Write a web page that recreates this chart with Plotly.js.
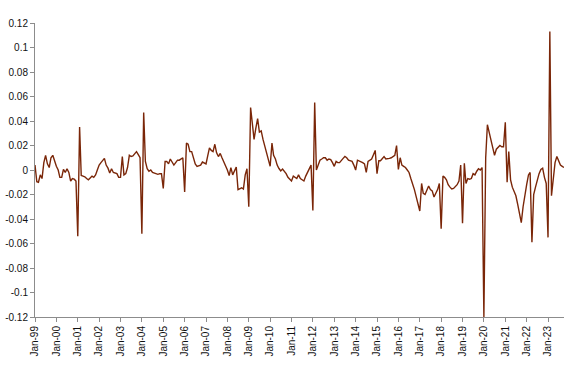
<!DOCTYPE html>
<html>
<head>
<meta charset="utf-8">
<script src="https://cdn.plot.ly/plotly-3.0.1.min.js"></script>
<style>html,body{margin:0;padding:0;background:#fff}#chart{width:570px;height:367px}</style>
</head>
<body>
<div id="chart"></div>
<script>
// Monthly series, Jan-1999 .. Oct-2023
const startYear = 1999;
const v1999 = [0.004, -0.0095, -0.010, -0.004, -0.007, 0.006, 0.012, 0.005, 0.002, 0.010, 0.012, 0.007];
const v2000 = [0.003, 0.000, -0.006, -0.006, 0.0005, -0.002, 0.001, -0.002, -0.009, -0.007, -0.0075, -0.009];
const v2001 = [-0.054, 0.035, -0.0045, -0.005, -0.0055, -0.007, -0.008, -0.0065, -0.005, -0.006, -0.004, 0.000];
const v2002 = [0.004, 0.006, 0.008, 0.0095, 0.004, 0.0015, -0.0025, 0.001, -0.002, -0.0025, -0.003, -0.006];
const v2003 = [-0.006, 0.011, -0.004, -0.003, 0.002, 0.012, 0.011, 0.0115, 0.013, 0.015, 0.0125, 0.010];
const v2004 = [-0.052, 0.047, 0.007, 0.001, -0.001, 0.000, -0.002, -0.0025, -0.003, -0.0035, -0.003, -0.003];
const v2005 = [-0.015, 0.007, 0.007, 0.005, 0.009, 0.006, 0.004, 0.006, 0.008, 0.008, 0.009, 0.010];
const v2006 = [-0.018, 0.022, 0.021, 0.015, 0.015, 0.010, 0.005, 0.003, 0.0035, 0.004, 0.0065, 0.0055];
const v2007 = [0.005, 0.012, 0.018, 0.016, 0.015, 0.021, 0.014, 0.011, 0.0135, 0.010, 0.0068, 0.003];
const v2008 = [0.000, -0.0046, 0.002, -0.004, 0.000, 0.0025, -0.016, -0.015, -0.0145, -0.0155, -0.004, 0.001];
const v2009 = [-0.030, 0.051, 0.037, 0.025, 0.034, 0.042, 0.031, 0.032, 0.025, 0.020, 0.013, 0.008];
const v2010 = [0.003, 0.022, 0.012, 0.009, 0.004, 0.0012, -0.0008, 0.0008, -0.001, -0.003, -0.006, -0.0075];
const v2011 = [-0.009, -0.005, -0.006, -0.007, -0.004, -0.007, -0.008, -0.009, -0.005, -0.002, 0.001, 0.004];
const v2012 = [-0.033, 0.055, 0.000, 0.004, 0.008, 0.009, 0.010, 0.010, 0.008, 0.009, 0.0085, 0.006];
const v2013 = [0.003, 0.007, 0.006, 0.006, 0.008, 0.0095, 0.011, 0.010, 0.008, 0.0075, 0.007, 0.004];
const v2014 = [0.000, 0.008, 0.0075, 0.0065, 0.006, 0.005, -0.002, 0.007, 0.008, 0.009, 0.0125, 0.016];
const v2015 = [-0.003, 0.0075, 0.0075, 0.0095, 0.011, 0.009, 0.009, 0.0095, 0.010, 0.011, 0.012, 0.020];
const v2016 = [0.0005, 0.010, 0.004, 0.003, 0.002, 0.000, -0.002, -0.007, -0.011, -0.016, -0.022, -0.027];
const v2017 = [-0.0335, -0.011, -0.019, -0.020, -0.016, -0.013, -0.016, -0.017, -0.022, -0.019, -0.016, -0.011];
const v2018 = [-0.048, -0.005, -0.006, -0.008, -0.012, -0.014, -0.0155, -0.015, -0.0135, -0.012, -0.009, 0.004];
const v2019 = [-0.0435, 0.0055, -0.011, -0.007, -0.0075, -0.007, -0.003, -0.004, -0.001, 0.001, 0.000, 0.002];
const v2020 = [-0.12, 0.010, 0.037, 0.030, 0.024, 0.016, 0.012, 0.017, 0.019, 0.020, 0.019, 0.019];
const v2021 = [0.039, -0.010, 0.015, -0.008, -0.014, -0.017, -0.021, -0.028, -0.035, -0.043, -0.030, -0.020];
const v2022 = [-0.012, -0.004, -0.002, -0.059, -0.020, -0.014, -0.008, -0.003, 0.0005, 0.0015, -0.006, -0.011];
const v2023 = [-0.055, 0.113, -0.021, -0.005, 0.006, 0.011, 0.007, 0.004, 0.003, 0.002];

const yTickVals = [0.12, 0.1, 0.08, 0.06, 0.04, 0.02, 0, -0.02, -0.04, -0.06, -0.08, -0.1, -0.12];
const yTickText = ['0.12', '0.1', '0.08', '0.06', '0.04', '0.02', '0', '-0.02', '-0.04', '-0.06', '-0.08', '-0.1', '-0.12'];

const values = [].concat(v1999, v2000, v2001, v2002, v2003, v2004, v2005, v2006, v2007, v2008,
  v2009, v2010, v2011, v2012, v2013, v2014, v2015, v2016, v2017, v2018, v2019, v2020, v2021, v2022, v2023);

const dates = values.map((_, i) => {
  const y = startYear + Math.floor(i / 12);
  const m = (i % 12) + 1;
  return y + '-' + String(m).padStart(2, '0') + '-01';
});

const trace = {
  x: dates,
  y: values,
  type: 'scatter',
  mode: 'lines',
  line: {color: '#7a2608', width: 1.4},
  hoverinfo: 'skip'
};

const font = {family: '"Liberation Sans", Arial, sans-serif', size: 10, color: '#111'};

const layout = {
  width: 570,
  height: 367,
  margin: {l: 35, r: 6, t: 23, b: 50},
  paper_bgcolor: '#fff',
  plot_bgcolor: '#fff',
  showlegend: false,
  font: font,
  xaxis: {
    type: 'date',
    range: [dates[0], dates[dates.length - 1]],
    tick0: dates[0],
    dtick: 'M12',
    tickformat: '%b-%y',
    tickangle: -90,
    showgrid: false,
    zeroline: false,
    showline: true,
    linecolor: '#8c8c8c',
    linewidth: 1,
    ticks: 'outside',
    ticklen: 4,
    tickcolor: '#8c8c8c',
    tickfont: font,
    fixedrange: true
  },
  yaxis: {
    range: [-0.12, 0.12],
    tickvals: yTickVals,
    ticktext: yTickText,
    showgrid: false,
    zeroline: false,
    showline: true,
    linecolor: '#8c8c8c',
    linewidth: 1,
    ticks: 'outside',
    ticklen: 4,
    tickcolor: '#8c8c8c',
    tickfont: font,
    fixedrange: true
  }
};

Plotly.newPlot('chart', [trace], layout, {displayModeBar: false, staticPlot: true});
</script>
</body>
</html>
